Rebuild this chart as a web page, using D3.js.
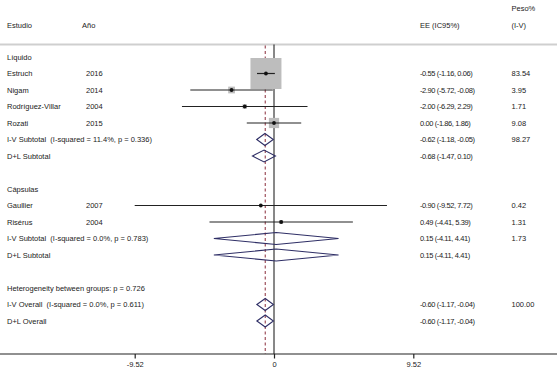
<!DOCTYPE html>
<html><head><meta charset="utf-8">
<script src="https://cdn.jsdelivr.net/npm/d3@7"></script>
<style>
body{margin:0;background:#fff;}
text{font-family:"Liberation Sans",Arial,sans-serif;font-size:7.5px;fill:#222;white-space:pre;}
</style></head>
<body><svg id="c" width="557" height="376"></svg>
<script>
// ---- data ----
const groups = ["Líquido", "Cápsulas"];
const studies = ["Estruch", "Nigam", "Rodríguez-Villar", "Rozati", "Gaullier", "Risérus"];
const studyGroup = [0, 0, 0, 0, 1, 1];
const years = ["2016", "2014", "2004", "2015", "2007", "2004"];
const est = [-0.55, -2.90, -2.00, 0.00, -0.90, 0.49];
const lower = [-1.16, -5.72, -6.29, -1.86, -9.52, -4.41];
const upper = [0.06, -0.08, 2.29, 1.86, 7.72, 5.39];
const weights = [83.54, 3.95, 1.71, 9.08, 0.42, 1.31];

const subLabels = [
  ["I-V Subtotal  (I-squared = 11.4%, p = 0.336)", "D+L Subtotal"],
  ["I-V Subtotal  (I-squared = 0.0%, p = 0.783)", "D+L Subtotal"]
];
const subEst = [[-0.62, -0.68], [0.15, 0.15]];
const subLo = [[-1.18, -1.47], [-4.11, -4.11]];
const subHi = [[-0.05, 0.10], [4.41, 4.41]];
const subWeight = [["98.27", ""], ["1.73", ""]];

const hetText = "Heterogeneity between groups: p = 0.726";
const overallLabels = ["I-V Overall  (I-squared = 0.0%, p = 0.611)", "D+L Overall"];
const overallEst = [-0.60, -0.60];
const overallLo = [-1.17, -1.17];
const overallHi = [-0.04, -0.04];
const overallWeight = ["100.00", ""];

const tickValues = [-9.52, 0, 9.52];
const headers = {study: "Estudio", year: "Año", ee: "EE (IC95%)", w1: "Peso%", w2: "(I-V)"};

// ---- build rows ----
const rows = [];
groups.forEach((g, gi) => {
  rows.push({type: "group", label: g});
  studies.forEach((s, i) => {
    if (studyGroup[i] === gi) rows.push({type: "study", label: s, year: years[i], es: est[i], lo: lower[i], hi: upper[i], w: weights[i]});
  });
  subLabels[gi].forEach((l, k) => rows.push({type: "diamond", label: l, es: subEst[gi][k], lo: subLo[gi][k], hi: subHi[gi][k], wt: subWeight[gi][k]}));
  rows.push({type: "blank"});
});
rows.push({type: "text", label: hetText});
overallLabels.forEach((l, k) => rows.push({type: "diamond", label: l, es: overallEst[k], lo: overallLo[k], hi: overallHi[k], wt: overallWeight[k]}));

const svg = d3.select("#c");
const x = d3.scaleLinear().domain([-9.52, 9.52]).range([134.7, 413.3]);
const y = d3.scaleLinear().domain([0, 16]).range([57, 321]);
const boxSide = d3.scaleSqrt().domain([0, d3.max(weights)]).range([0, 31]);
const f2 = d3.format(".2f");
const fmt = v => f2(v).replace("\u2212", "-");
const axisY = 354, topY = 44.5;
const colStudy = 7, colYear = 86, colEE = 420, colW = 511.5;

// header
svg.append("text").attr("x", colStudy).attr("y", 25).attr("dy", "0.35em").text(headers.study);
svg.append("text").attr("x", 82).attr("y", 25).attr("dy", "0.35em").text(headers.year);
svg.append("text").attr("x", colEE).attr("y", 25).attr("dy", "0.35em").text(headers.ee);
svg.append("text").attr("x", colW).attr("y", 8).attr("dy", "0.35em").text(headers.w1);
svg.append("text").attr("x", colW).attr("y", 25).attr("dy", "0.35em").text(headers.w2);

svg.append("line").attr("x1", 0).attr("x2", 557).attr("y1", topY).attr("y2", topY)
  .attr("stroke", "#cfcfcf").attr("stroke-width", 2);

// reference lines
svg.append("line").attr("x1", x(0)).attr("x2", x(0)).attr("y1", topY).attr("y2", axisY)
  .attr("stroke", "#111").attr("stroke-width", 1);
svg.append("line").attr("x1", x(overallEst[0])).attr("x2", x(overallEst[0])).attr("y1", topY + 1).attr("y2", axisY)
  .attr("stroke", "#8a2b3a").attr("stroke-width", 1).attr("stroke-dasharray", "3,2.5");

rows.forEach((r, i) => {
  const yy = y(i);
  if (r.type === "blank") return;
  svg.append("text").attr("x", colStudy).attr("y", yy).attr("dy", "0.35em").text(r.label);
  if (r.type === "study") {
    svg.append("text").attr("x", colYear).attr("y", yy).attr("dy", "0.35em").text(r.year);
    const s = boxSide(r.w);
    svg.append("rect").attr("x", x(r.es) - s / 2).attr("y", yy - s / 2).attr("width", s).attr("height", s)
      .attr("fill", "#bdbdbd");
    svg.append("line").attr("x1", x(r.lo)).attr("x2", x(r.hi)).attr("y1", yy).attr("y2", yy)
      .attr("stroke", "#222").attr("stroke-width", 1.2);
    svg.append("circle").attr("cx", x(r.es)).attr("cy", yy).attr("r", 1.9).attr("fill", "#111");
    svg.append("text").attr("x", colEE).attr("y", yy).attr("dy", "0.35em").style("letter-spacing", "-0.4px")
      .text(`${fmt(r.es)} (${fmt(r.lo)}, ${fmt(r.hi)})`);
    svg.append("text").attr("x", colW).attr("y", yy).attr("dy", "0.35em").text(fmt(r.w));
  }
  if (r.type === "diamond") {
    const h = 6;
    svg.append("path")
      .attr("d", `M${x(r.lo)},${yy}L${x(r.es)},${yy - h}L${x(r.hi)},${yy}L${x(r.es)},${yy + h}Z`)
      .attr("fill", "none").attr("stroke", "#2f2f66").attr("stroke-width", 1.1);
    svg.append("text").attr("x", colEE).attr("y", yy).attr("dy", "0.35em").style("letter-spacing", "-0.4px")
      .text(`${fmt(r.es)} (${fmt(r.lo)}, ${fmt(r.hi)})`);
    if (r.wt) svg.append("text").attr("x", colW).attr("y", yy).attr("dy", "0.35em").text(r.wt);
  }
});

// axis
svg.append("line").attr("x1", 0).attr("x2", 557).attr("y1", axisY).attr("y2", axisY)
  .attr("stroke", "#222").attr("stroke-width", 1.2);
const ax = svg.append("g").attr("transform", `translate(0,${axisY})`)
  .call(d3.axisBottom(x).tickValues(tickValues).tickSize(4.5).tickPadding(3.5).tickFormat(d => d === 0 ? "0" : fmt(d)));
ax.select(".domain").remove();
ax.selectAll(".tick line").attr("stroke", "#222").attr("stroke-width", 1.2);
ax.selectAll(".tick text").attr("font-family", null).attr("font-size", null).style("fill", "#222");
ax.attr("font-size", null).attr("font-family", null);
</script></body></html>
